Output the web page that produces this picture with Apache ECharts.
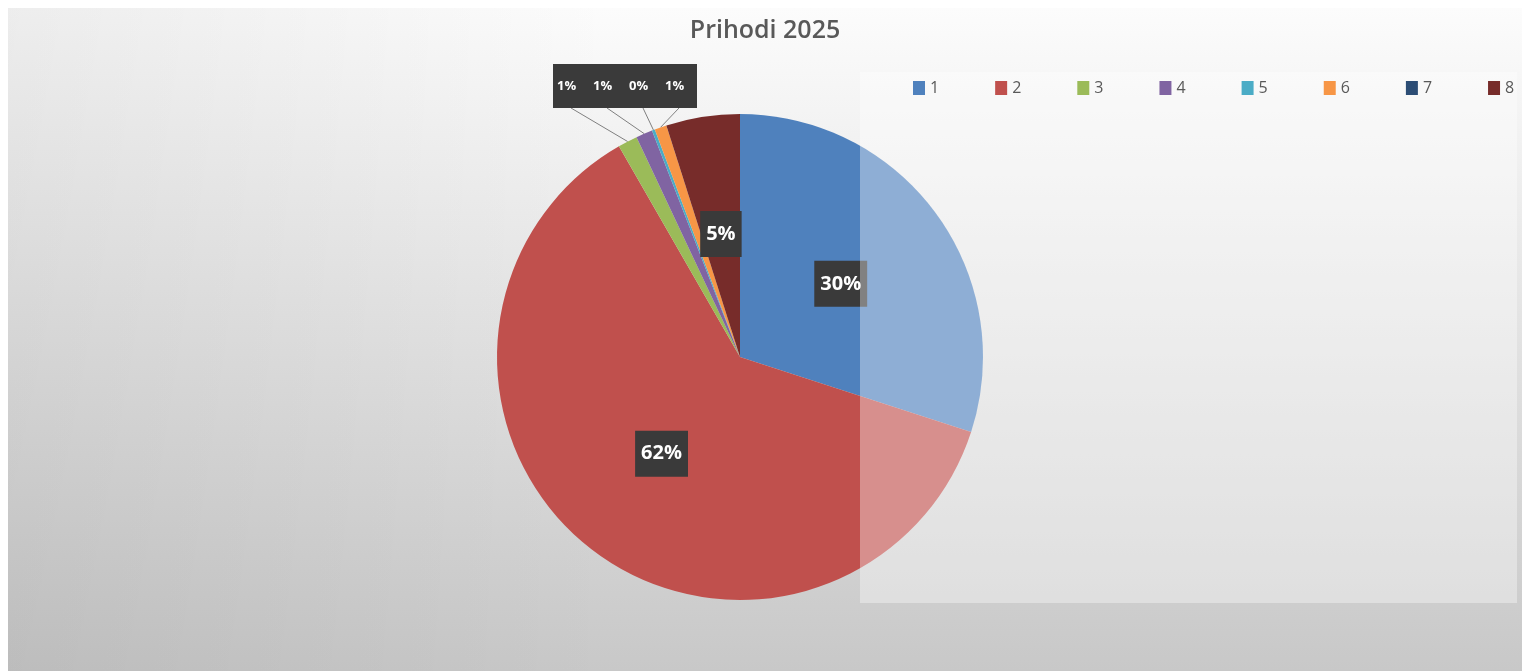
<!DOCTYPE html>
<html>
<head>
<meta charset="utf-8">
<script src="https://cdn.jsdelivr.net/npm/echarts@6/dist/echarts.min.js"></script>
<style>
  html, body { margin: 0; padding: 0; background: #ffffff; width: 1522px; height: 671px; overflow: hidden; }
  #chart {
    position: absolute; left: 8px; top: 8px; width: 1514px; height: 663px;
    background: linear-gradient(to right, rgba(0,0,0,0.06), rgba(0,0,0,0) 40%),
                linear-gradient(to bottom, #fcfcfc, #c8c8c8);
  }
</style>
</head>
<body>
<div id="chart"></div>
<script>
// ---- data ----
const titleText = 'Prihodi 2025';
const categories = ['1', '2', '3', '4', '5', '6', '7', '8'];
const values = [30.0, 61.7, 1.3, 1.1, 0.2, 0.8, 0.0, 4.9];
const colors = ['#4F81BD', '#C0504D', '#9BBB59', '#8064A2', '#4BACC6', '#F79646', '#2C4D75', '#772C2A'];
const smallSlices = ['3', '4', '5', '6'];   // labels gathered in the box above the pie
const hiddenLabels = ['7'];

// ---- chart ----
const chart = echarts.init(document.getElementById('chart'), null, { renderer: 'canvas' });
const FONT = '"Open Sans", "Liberation Sans", sans-serif';
const pct = function (p) { return Math.round(p.percent) + '%'; };

const bigLabel = {
  show: true,
  position: 'inside',
  formatter: pct,
  color: '#ffffff',
  fontFamily: FONT,
  fontWeight: 'bold',
  fontSize: 20,
  backgroundColor: '#3a3a3a',
  padding: [14, 6, 12, 6]
};
const smallLabel = {
  show: true,
  position: 'outside',
  formatter: pct,
  color: '#ffffff',
  fontFamily: FONT,
  fontWeight: 'bold',
  fontSize: 13,
  width: 28,
  height: 36,
  lineHeight: 36,
  align: 'center',
  backgroundColor: '#3a3a3a',
  padding: [4, 4, 4, 4]
};

const data = categories.map(function (c, i) {
  let label = bigLabel;
  let labelLine = { show: false };
  if (smallSlices.indexOf(c) >= 0) {
    label = smallLabel;
    labelLine = { show: true, length: 10, length2: 10, lineStyle: { color: '#7f7f7f', width: 1 } };
  }
  if (hiddenLabels.indexOf(c) >= 0) {
    label = { show: false };
  }
  return { name: c, value: values[i], label: label, labelLine: labelLine, itemStyle: { color: colors[i] } };
});

const boxLeft = 545, boxTop = 56, boxW = 36, boxH = 44;

chart.setOption({
  animation: false,
  title: {
    text: titleText,
    left: 'center',
    top: 5,
    textStyle: { fontFamily: FONT, fontSize: 25, fontWeight: 600, color: '#595959' }
  },
  legend: {
    data: categories,
    left: 900,
    top: 67,
    itemWidth: 12,
    itemHeight: 14,
    itemGap: 56,
    icon: 'rect',
    textStyle: { fontFamily: FONT, fontSize: 16, color: '#595959' }
  },
  graphic: [
    {
      type: 'rect',
      z: 3,
      shape: { x: 852, y: 64, width: 657, height: 531 },
      style: { fill: 'rgba(255,255,255,0.36)' },
      silent: true
    }
  ],
  series: [{
    type: 'pie',
    center: [732, 349],
    radius: 243,
    startAngle: 90,
    clockwise: true,
    avoidLabelOverlap: false,
    itemStyle: { borderWidth: 0 },
    emphasis: { disabled: true },
    labelLayout: function (p) {
      const name = categories[p.dataIndex];
      const k = smallSlices.indexOf(name);
      if (k < 0 || !p.labelLinePoints) return {};
      const lx = boxLeft + k * boxW;
      const edge = p.labelLinePoints[0];
      const anchorX = lx + boxW / 2;
      return {
        x: lx,
        y: boxTop,
        align: 'left',
        verticalAlign: 'top',
        labelLinePoints: [edge, [anchorX, boxTop + boxH], [anchorX, boxTop + boxH]]
      };
    },
    data: data
  }]
});
</script>
</body>
</html>
